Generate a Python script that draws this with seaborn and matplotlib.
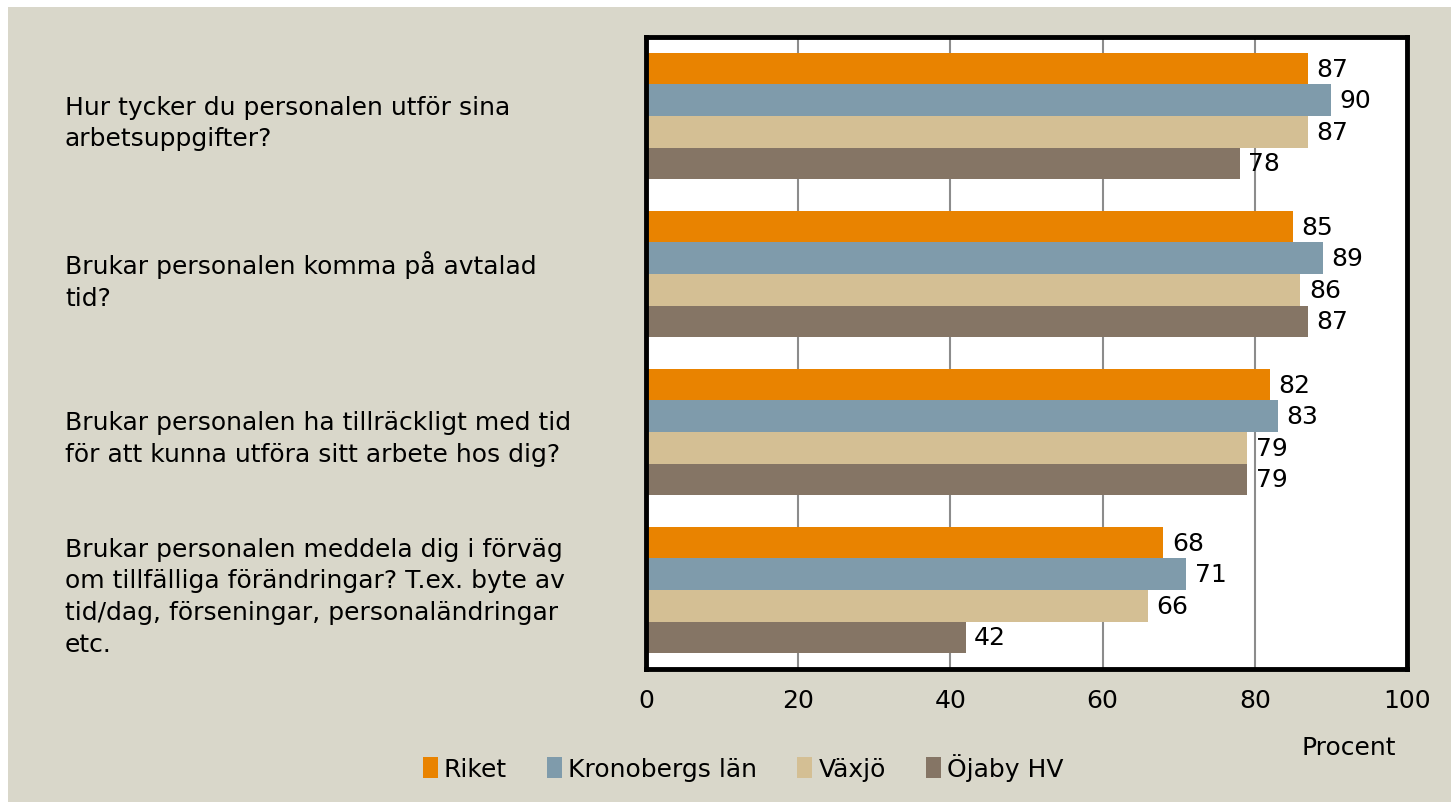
import matplotlib
matplotlib.use("Agg")
import matplotlib.pyplot as plt
import seaborn as sns
import pandas as pd
from matplotlib.patches import Rectangle

# Data
questions = [
    "Hur tycker du personalen utför sina\narbetsuppgifter?",
    "Brukar personalen komma på avtalad\ntid?",
    "Brukar personalen ha tillräckligt med tid\nför att kunna utföra sitt arbete hos dig?",
    "Brukar personalen meddela dig i förväg\nom tillfälliga förändringar? T.ex. byte av\ntid/dag, förseningar, personaländringar\netc.",
]
series = ["Riket", "Kronobergs län", "Växjö", "Öjaby HV"]
riket = [87, 85, 82, 68]
kronoberg = [90, 89, 83, 71]
vaxjo = [87, 86, 79, 66]
ojaby = [78, 87, 79, 42]
colors = ["#E98300", "#7F9BAB", "#D4BF94", "#857565"]

rows = []
for name, vals in zip(series, [riket, kronoberg, vaxjo, ojaby]):
    for q, v in zip(questions, vals):
        rows.append({"Fråga": q, "Serie": name, "Procent": v})
df = pd.DataFrame(rows)

sns.set_style("white")
plt.rcParams["font.family"] = ["DejaVu Sans"]
plt.rcParams["text.color"] = "black"
plt.rcParams["xtick.color"] = "black"
plt.rcParams["ytick.color"] = "black"
plt.rcParams["axes.labelcolor"] = "black"
fs = 18

fig = plt.figure(figsize=(14.51, 8.03), dpi=100, facecolor="white")
fig.patches.append(Rectangle((8 / 1451, 0), 1, 1 - 8 / 803, transform=fig.transFigure,
                             facecolor="#D9D7CA", edgecolor="none", zorder=-10))
ax = fig.add_axes([646 / 1451, 1 - 670 / 803, (1407 - 646) / 1451, (670 - 38) / 803])

sns.barplot(data=df, y="Fråga", x="Procent", hue="Serie",
            palette=colors, orient="h", width=0.8, ax=ax, saturation=1,
            edgecolor="none", legend=True)

for cont in ax.containers:
    ax.bar_label(cont, fontsize=fs, padding=6, color="black")

ax.set_xlim(0, 100)
ax.set_ylim(3.5, -0.5)
ax.set_xticks([0, 20, 40, 60, 80, 100])
ax.tick_params(axis="x", labelsize=fs, length=0, pad=14)
ax.tick_params(axis="y", labelsize=fs, length=0, pad=(646 - 65) * 0.72)
for lab in ax.get_yticklabels():
    lab.set_ha("left")
    lab.set_linespacing(1.4)
ax.set_ylabel("")
ax.set_xlabel("Procent", fontsize=fs)
ax.xaxis.set_label_coords(0.985, -0.105)
ax.xaxis.label.set_ha("right")
ax.grid(axis="x", color="#8C8C8C", linewidth=1.5)
ax.set_axisbelow(True)
for sp in ax.spines.values():
    sp.set_visible(True)
    sp.set_color("black")
    sp.set_linewidth(3.5)

handles, labels = ax.get_legend_handles_labels()
ax.legend_.remove()
fig.legend(handles, labels, loc="center left", bbox_to_anchor=(400 / 1451, 1 - 768 / 803),
           ncol=4, frameon=False, fontsize=fs, handlelength=0.6, handleheight=0.9,
           handletextpad=0.25, columnspacing=1.6)

fig.savefig("out.png", dpi=100, facecolor=fig.get_facecolor())
